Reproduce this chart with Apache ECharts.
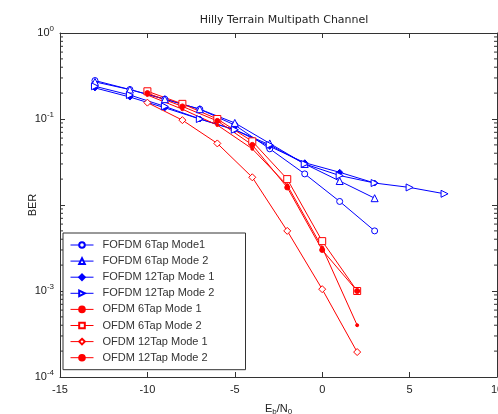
<!DOCTYPE html>
<html>
<head>
<meta charset="utf-8">
<script src="https://cdn.jsdelivr.net/npm/echarts@6/dist/echarts.min.js"></script>
<style>
html,body{margin:0;padding:0;background:#fff;}
#chart{width:498px;height:414px;}
</style>
</head>
<body>
<div id="chart"></div>
<script>
// ---- data ----
const titleText = 'Hilly Terrain Multipath Channel';
const xTicks = [-15, -10, -5, 0, 5, 10];
const yTicks = [1e-4, 1e-3, 1e-2, 1e-1, 1];
const hiddenYLabelExp = [-2]; // label hidden behind "BER" in the reference

const seriesNames = [
  'FOFDM 6Tap Mode1', 'FOFDM 6Tap Mode 2', 'FOFDM 12Tap Mode 1', 'FOFDM 12Tap Mode 2',
  'OFDM 6Tap Mode 1', 'OFDM 6Tap Mode 2', 'OFDM 12Tap Mode 1', 'OFDM 12Tap Mode 2'
];

const xBlue = [-13, -11, -9, -7, -5, -3, -1, 1, 3];
const xBlueLong = [-13, -11, -9, -7, -5, -3, -1, 1, 3, 5, 7];
const xRed = [-10, -8, -6, -4, -2, 0, 2];

const fofdm6m1  = [0.28, 0.22, 0.17, 0.13, 0.085, 0.045, 0.023, 0.011, 0.005];
const fofdm6m2  = [0.27, 0.22, 0.17, 0.13, 0.09, 0.052, 0.03, 0.019, 0.012];
const fofdm12m1 = [0.23, 0.18, 0.135, 0.1, 0.075, 0.048, 0.031, 0.024, 0.018];
const fofdm12m2 = [0.24, 0.19, 0.14, 0.1, 0.075, 0.05, 0.03, 0.022, 0.018, 0.016, 0.0135];

const ofdm6m1  = [0.19, 0.13, 0.085, 0.045, 0.017, 0.0032, 0.0004];
const ofdm6m2  = [0.21, 0.15, 0.1, 0.055, 0.02, 0.0038, 0.001];
const ofdm12m1 = [0.155, 0.097, 0.052, 0.021, 0.005, 0.00105, 0.000195];
const ofdm12m2 = [0.2, 0.14, 0.095, 0.05, 0.016, 0.003, 0.001];

// ---- chart ----
const BLUE = '#0000ff', RED = '#ff0000';
function pairs(xs, ys){ return xs.map((x,i)=>[x, ys[i]]); }
function mk(name, xs, ys, color, symbol, size, filled, rotate){
  return {
    name, type:'line', data: pairs(xs, ys),
    symbol, symbolSize: size, symbolRotate: rotate || 0,
    showAllSymbol: true,
    lineStyle:{color, width:1},
    itemStyle:{color: filled ? color : '#ffffff', borderColor: color, borderWidth:1},
    emphasis:{disabled:true},
    animation:false, z: 3
  };
}

const chart = echarts.init(document.getElementById('chart'), null, {renderer:'canvas'});
const FONT = 'Liberation Sans, Arial, sans-serif';
const axisCol = '#333';
const supRich = {
  b:{fontSize:11, color:'#222', fontFamily:FONT},
  s:{fontSize:8, color:'#222', fontFamily:FONT, verticalAlign:'bottom', padding:[0,0,9,0]}
};

const option = {
  animation:false,
  backgroundColor:'#fff',
  title:{
    text:titleText, left:279, top:10, textAlign:'center',
    textStyle:{fontSize:11, fontWeight:'normal', color:'#222', fontFamily:'DejaVu Sans, sans-serif'}
  },
  grid:{left:60, right:1, top:33, bottom:37, containLabel:false, outerBoundsMode:'none'},
  legend:{
    orient:'vertical', left:63, top:233,
    padding:[6,10,6,7], itemGap:4.1, itemWidth:23, itemHeight:7,
    backgroundColor:'#fff', borderColor:'#333', borderWidth:1,
    lineStyle:{width:1},
    textStyle:{fontSize:11, lineHeight:12, color:'#333', fontFamily:FONT, width:133, padding:[0,0,0,4]},
    data: seriesNames
  },
  xAxis:[{
    type:'value', min:-15, max:10, interval:5, position:'bottom',
    axisLine:{show:true, onZero:false, lineStyle:{color:axisCol}},
    axisTick:{inside:true, length:5, lineStyle:{color:axisCol}},
    axisLabel:{fontSize:11, color:'#222', margin:7, fontFamily:FONT, showMaxLabel:true, hideOverlap:false},
    splitLine:{show:false},
    name:'{e|E}{sb|b}{e|/N}{sb|0}', nameLocation:'middle', nameGap:25, nameMoveOverlap:false,
    nameTextStyle:{rich:{
      e:{fontSize:11, color:'#222', fontFamily:FONT},
      sb:{fontSize:8, color:'#222', fontFamily:FONT, verticalAlign:'top', padding:[6,0,0,0]}
    }}
  },{
    type:'value', min:-15, max:10, interval:5, position:'top',
    axisLine:{show:true, onZero:false, lineStyle:{color:axisCol}},
    axisTick:{inside:true, length:5, lineStyle:{color:axisCol}},
    axisLabel:{show:false}, splitLine:{show:false}
  }],
  yAxis:[{
    type:'log', logBase:10, min:1e-4, max:1, position:'left',
    axisLine:{show:true, onZero:false, lineStyle:{color:axisCol}},
    axisTick:{inside:true, length:5, lineStyle:{color:axisCol}},
    axisLabel:{
      margin:6, fontFamily:FONT,
      formatter:function(v){
        const e = Math.round(Math.log10(v));
        if (hiddenYLabelExp.indexOf(e) >= 0) return '';
        return '{b|10}{s|' + e + '}';
      },
      rich:supRich
    },
    splitLine:{show:false},
    name:'BER', nameLocation:'middle', nameGap:22, nameMoveOverlap:false,
    nameTextStyle:{fontSize:11, color:'#222', fontFamily:FONT}
  },{
    type:'log', logBase:10, min:1e-4, max:1, position:'right',
    axisLine:{show:true, onZero:false, lineStyle:{color:axisCol}},
    axisTick:{inside:true, length:5, lineStyle:{color:axisCol}},
    axisLabel:{show:false}, splitLine:{show:false}
  }],
  series:[
    mk(seriesNames[0], xBlue, fofdm6m1, BLUE, 'circle', 6, false),
    mk(seriesNames[1], xBlue, fofdm6m2, BLUE, 'triangle', 7, false),
    mk(seriesNames[2], xBlue, fofdm12m1, BLUE, 'diamond', 6, true),
    mk(seriesNames[3], xBlueLong, fofdm12m2, BLUE, 'triangle', 7, false, -90),
    mk(seriesNames[4], xRed, ofdm6m1, RED, 'circle', 3, true),
    mk(seriesNames[5], xRed, ofdm6m2, RED, 'rect', 7, false),
    mk(seriesNames[6], xRed, ofdm12m1, RED, 'diamond', 7, false),
    mk(seriesNames[7], xRed, ofdm12m2, RED, 'circle', 5, true)
  ]
};
chart.setOption(option);

// minor log ticks (2..9 per decade) on left and right axes
function drawMinor(){
  const els = [];
  for (let d = 0; d < yTicks.length - 1; d++) {
    for (let k = 2; k <= 9; k++) {
      const v = yTicks[d] * k;
      const pL = chart.convertToPixel({xAxisIndex:0, yAxisIndex:0}, [xTicks[0], v]);
      const pR = chart.convertToPixel({xAxisIndex:0, yAxisIndex:0}, [xTicks[xTicks.length-1], v]);
      els.push({type:'line', silent:true, z:10, shape:{x1:pL[0], y1:pL[1], x2:pL[0]+3, y2:pL[1]}, style:{stroke:axisCol, lineWidth:1}});
      els.push({type:'line', silent:true, z:10, shape:{x1:pR[0]-3, y1:pR[1], x2:pR[0], y2:pR[1]}, style:{stroke:axisCol, lineWidth:1}});
    }
  }
  chart.setOption({graphic:{elements:els}});
}
drawMinor();
</script>
</body>
</html>
